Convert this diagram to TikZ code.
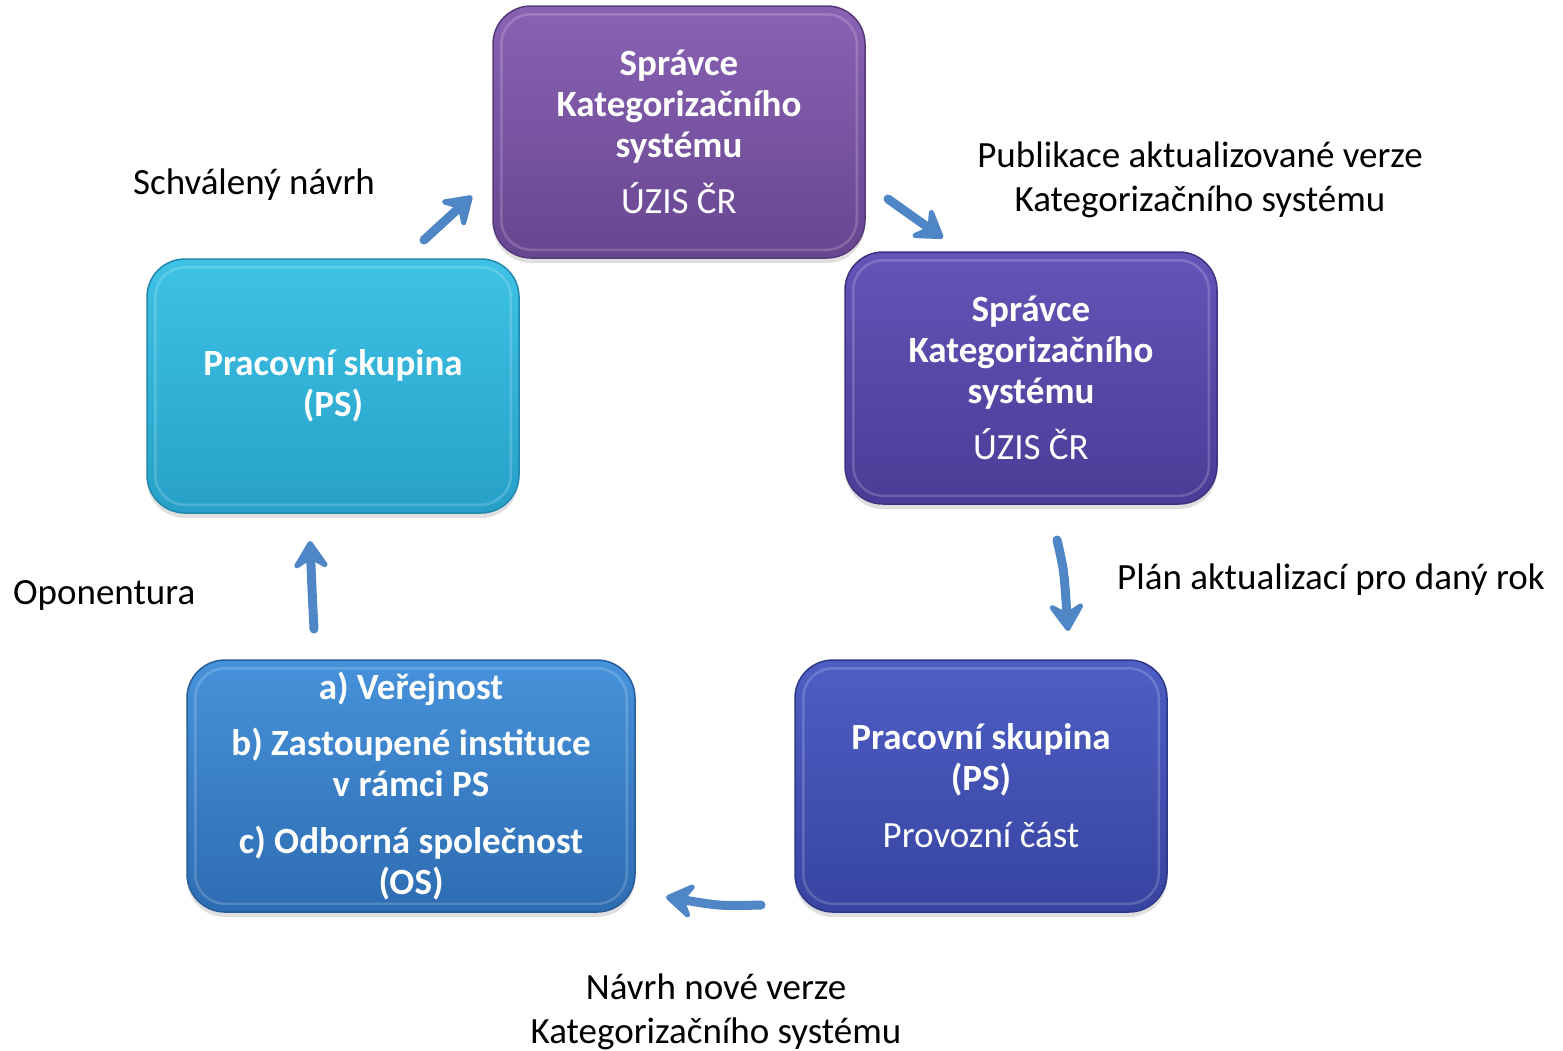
\documentclass[tikz,border=0pt]{standalone}
\usepackage{fontspec}
\setmainfont{Carlito}
\usetikzlibrary{shadows,arrows.meta}
\definecolor{pTop}{HTML}{8A62B4}\definecolor{pBot}{HTML}{674690}\definecolor{pEdge}{HTML}{553A7A}
\definecolor{vTop}{HTML}{6454B8}\definecolor{vBot}{HTML}{4A3C96}\definecolor{vEdge}{HTML}{3D3280}
\definecolor{iTop}{HTML}{4E5EC4}\definecolor{iBot}{HTML}{3744A0}\definecolor{iEdge}{HTML}{2E3888}
\definecolor{bTop}{HTML}{4692DA}\definecolor{bBot}{HTML}{2E6CB2}\definecolor{bEdge}{HTML}{265C98}
\definecolor{cTop}{HTML}{3EC2E6}\definecolor{cBot}{HTML}{27A0C8}\definecolor{cEdge}{HTML}{2088AC}
\definecolor{arrowblue}{HTML}{4F86C6}
\begin{document}
\begin{tikzpicture}[x=1pt,y=-1pt,
  card/.style={rounded corners=38pt, minimum height=252pt, inner sep=0pt,
    align=center, text=white, font=\fontsize{37}{41}\selectfont, line width=1.5pt,
    drop shadow={opacity=0.25, shadow xshift=0pt, shadow yshift=-5pt}},
  lbl/.style={align=center, font=\fontsize{37}{44.5}\selectfont, inner sep=0pt},
  flow/.style={line width=9pt, arrowblue, line cap=round,
    -{Stealth[length=34pt,width=44pt,inset=13pt,round]}}
]
\useasboundingbox (0,0) rectangle (1563,1050);

\node[card, minimum width=372pt, top color=pTop, bottom color=pBot, draw=pEdge] (top) at (679,132)
  {\textbf{Správce}\\\textbf{Kategorizačního}\\\textbf{systému}\\[15pt]ÚZIS ČR};
\node[card, minimum width=372pt, top color=vTop, bottom color=vBot, draw=vEdge] (right) at (1031,378)
  {\textbf{Správce}\\\textbf{Kategorizačního}\\\textbf{systému}\\[15pt]ÚZIS ČR};
\node[card, minimum width=372pt, top color=iTop, bottom color=iBot, draw=iEdge] (br) at (981,786)
  {\textbf{Pracovní skupina}\\\textbf{(PS)}\\[16pt]Provozní část};
\node[card, minimum width=448pt, top color=bTop, bottom color=bBot, draw=bEdge] (bl) at (411,786)
  {\textbf{a) Veřejnost}\\[15pt]\textbf{b) Zastoupené instituce}\\\textbf{v rámci PS}\\[16pt]\textbf{c) Odborná společnost}\\\textbf{(OS)}};
\node[card, minimum width=372pt, minimum height=254pt, top color=cTop, bottom color=cBot, draw=cEdge] (left) at (333,386)
  {\textbf{Pracovní skupina}\\\textbf{(PS)}};

% inner bevel highlights
\foreach \n in {top,right,br,bl,left}{
  \draw[white, opacity=0.18, line width=2.5pt, rounded corners=30pt]
    ([shift={(9,9)}]\n.north west) rectangle ([shift={(-9,-9)}]\n.south east);
}

% labels
\node[lbl] (l1) at (254,185) {Schválený návrh};
\node[lbl] (l2) at (1200,180) {Publikace aktualizované verze\\Kategorizačního systému};
\node[lbl, anchor=west] (l3) at (1117,580) {Plán aktualizací pro daný rok};
\node[lbl, anchor=west] (l4) at (13,595) {Oponentura};
\node[lbl] (l5) at (716,1012) {Návrh nové verze\\Kategorizačního systému};

% arrows
\coordinate (a1s) at (424,240); \coordinate (a1e) at (472,196);
\coordinate (a2s) at (888,199); \coordinate (a2e) at (943,238);
\coordinate (a3s) at (1057,540); \coordinate (a3e) at (1068,631);
\coordinate (a4s) at (761,905); \coordinate (a4e) at (666,897);
\coordinate (a5s) at (314,629); \coordinate (a5e) at (310,541);
\draw[flow] (a1s) -- (a1e);
\draw[flow] (a2s) -- (a2e);
\draw[flow] (a3s) .. controls (1064,570) .. (a3e);
\draw[flow] (a4s) .. controls (720,906) .. (a4e);
\draw[flow] (a5s) .. controls (312,590) .. (a5e);
\end{tikzpicture}
\end{document}
